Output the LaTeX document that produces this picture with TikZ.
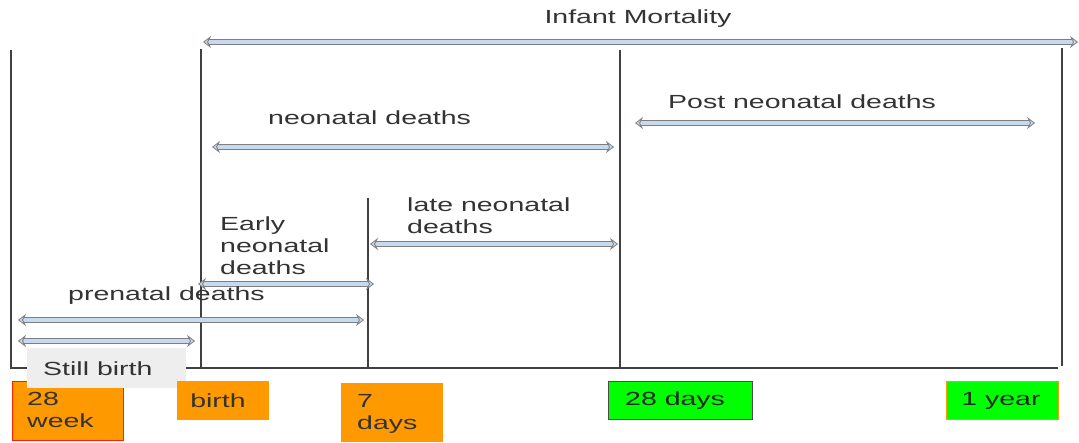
\documentclass[tikz,border=0pt]{standalone}
\usepackage{fontspec}
\setmainfont{Liberation Sans}[FakeStretch=1.5]
\usetikzlibrary{arrows.meta}
\definecolor{arrowblue}{HTML}{C6D9F1}
\definecolor{arrowedge}{HTML}{7F7F7F}
\definecolor{txt}{HTML}{333333}
\definecolor{orng}{HTML}{FF9900}
\definecolor{grn}{HTML}{00FF00}
\definecolor{sbgray}{HTML}{EEEEEE}
\tikzset{
  darr/.style={draw=arrowedge, line width=0.8pt, double=arrowblue, double distance=3.6pt,
    {Stealth[length=8pt,width=12pt,inset=3pt,open,fill=arrowblue]}-{Stealth[length=8pt,width=12pt,inset=3pt,open,fill=arrowblue]}},
  vline/.style={draw=black!75, line width=1.1pt},
  lbl/.style={text=txt, font=\fontsize{19}{22}\selectfont, inner sep=0pt, align=left},
  obox/.style={fill=orng, draw=orng, line width=0.6pt},
  gbox/.style={fill=grn, line width=0.8pt},
}
\begin{document}
\begin{tikzpicture}[x=1pt,y=-1pt]
\useasboundingbox (0,0) rectangle (1079,443);
\fill[white] (0,0) rectangle (1079,443);
% vertical lines
\coordinate (v0t) at (11,50);  \coordinate (v0b) at (11,368);
\coordinate (v1t) at (201,49); \coordinate (v1b) at (201,368);
\coordinate (v2t) at (368,198); \coordinate (v2b) at (368,368);
\coordinate (v3t) at (620,50); \coordinate (v3b) at (620,368);
\coordinate (v4t) at (1062,48); \coordinate (v4b) at (1062,366);
\coordinate (hb) at (1058,368);
\draw[vline] (v0t) -- (v0b) -- (hb);
\draw[vline] (v1t) -- (v1b);
\draw[vline] (v2t) -- (v2b);
\draw[vline] (v3t) -- (v3b);
\draw[vline] (v4t) -- (v4b);
% arrows
\coordinate (imL) at (203,42); \coordinate (imR) at (1078,42);
\coordinate (ndL) at (212,147); \coordinate (ndR) at (614,147);
\coordinate (pnL) at (635,123); \coordinate (pnR) at (1035,123);
\coordinate (lnL) at (370,244); \coordinate (lnR) at (618,244);
\coordinate (enL) at (198,284); \coordinate (enR) at (374,284);
\coordinate (prL) at (18,320); \coordinate (prR) at (364,320);
\coordinate (sbL) at (18,341); \coordinate (sbR) at (195,341);
\draw[darr] (imL) -- (imR);
\draw[darr] (ndL) -- (ndR);
\draw[darr] (pnL) -- (pnR);
\draw[darr] (lnL) -- (lnR);
\draw[darr] (enL) -- (enR);
\draw[darr] (prL) -- (prR);
\draw[darr] (sbL) -- (sbR);
% labels
\node[lbl] (tIM) at (638,19) {Infant Mortality};
\node[lbl, anchor=west] (tND) at (268,118) {neonatal deaths};
\node[lbl, anchor=west] (tPN) at (668,102) {Post neonatal deaths};
\node[lbl, anchor=north west] (tLN) at (407,198) {late neonatal\\deaths};
\node[lbl, anchor=north west] (tEN) at (220,217) {Early\\neonatal\\deaths};
\node[lbl, anchor=west] (tPR) at (68,296) {prenatal deaths};
% bottom boxes
\node[obox, draw=red!80!orng, minimum width=111pt, minimum height=59pt, inner sep=0pt] (b28w) at (67.5,410.5) {};
\node[lbl, anchor=north west] at (27,392) {28\\week};
\node[fill=sbgray, minimum width=159pt, minimum height=40pt, inner sep=0pt] (bsb) at (106.5,368) {};
\node[lbl, anchor=west] at (43,369) {Still birth};
\node[obox, minimum width=91pt, minimum height=38pt, inner sep=0pt] (bbirth) at (222.5,400) {};
\node[lbl] at (218,401) {birth};
\node[obox, minimum width=101pt, minimum height=58pt, inner sep=0pt] (b7d) at (391.5,412) {};
\node[lbl, anchor=north west] at (357,394) {7\\days};
\node[gbox, draw=black!70, minimum width=144pt, minimum height=38pt, inner sep=0pt] (b28d) at (680,400) {};
\node[lbl, anchor=west, text=black!85] at (625,401) {28 days};
\node[gbox, draw=orng, minimum width=112pt, minimum height=38pt, inner sep=0pt] (b1y) at (1002,400) {};
\node[lbl, text=black!85] at (1001,401) {1 year};
\end{tikzpicture}
\end{document}
